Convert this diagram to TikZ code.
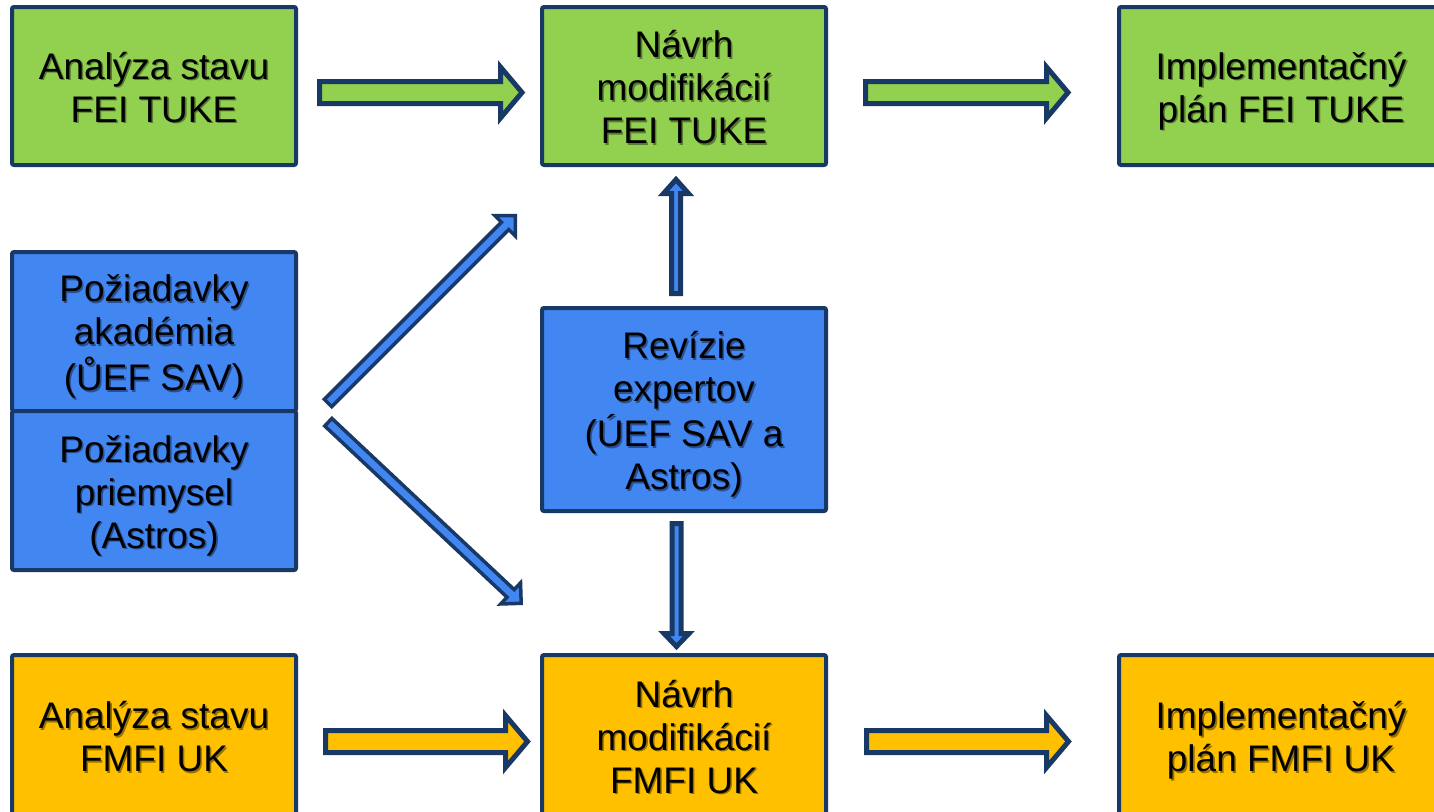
\documentclass[tikz,border=0pt]{standalone}
\usepackage{fontspec}
\setmainfont{Liberation Sans}
\usetikzlibrary{calc}
\definecolor{navy}{HTML}{183866}
\definecolor{gfill}{HTML}{92D050}
\definecolor{bfill}{HTML}{4286F1}
\definecolor{yfill}{HTML}{FFC000}
\newcommand\shtab[1]{\begin{tabular}{@{}c@{}}#1\end{tabular}}
\newcommand\sh[2]{\raisebox{-6pt}[\height][\depth]{\leavevmode\rlap{\kern1.6pt\raisebox{-1.6pt}[0pt][0pt]{\color{#1}\shtab{#2}}}\shtab{#2}}}
\newcommand\barrow[7]{\draw[#1, shift={#2}, rotate=#3] (0,-#5) -- ({#4-#7},-#5) -- ({#4-#7},-#6) -- (#4,0) -- ({#4-#7},#6) -- ({#4-#7},#5) -- (0,#5) -- cycle;}
\tikzset{
  box/.style={draw=navy, line width=4pt, rounded corners=2pt, inner sep=0pt,
    font=\fontsize{37}{43}\selectfont, text=black, minimum width=284pt, minimum height=158pt},
  gbox/.style={box, fill=gfill},
  bbox/.style={box, fill=bfill},
  ybox/.style={box, fill=yfill},
  arr/.style={draw=navy, line width=5pt, line join=miter, miter limit=10},
  garr/.style={arr, fill=gfill},
  yarr/.style={arr, fill=yfill},
  barr/.style={arr, fill=bfill},
  darr/.style={arr, fill=bfill, line width=3.5pt}
}
\begin{document}
\begin{tikzpicture}[x=1pt,y=-1pt]
\useasboundingbox (0,0) rectangle (1434,811);
\clip (0,0) rectangle (1434,811);
% boxes
\node[gbox] (a1) at (154,86) {\sh{gfill!60!black}{Analýza stavu\\FEI TUKE}};
\node[gbox] (n1) at (684,86) {\sh{gfill!60!black}{Návrh\\modifikácií\\FEI TUKE}};
\node[gbox, minimum width=324pt] (i1) at (1281,86) {\sh{gfill!60!black}{Implementačný\\plán FEI TUKE}};
\node[bbox, minimum height=159pt] (p1) at (154,331.5) {\sh{bfill!60!black}{Požiadavky\\akadémia\\(ŮEF SAV)}};
\node[bbox, minimum height=159pt] (p2) at (154,490.5) {\sh{bfill!60!black}{Požiadavky\\priemysel\\(Astros)}};
\node[bbox, minimum height=203pt] (r) at (684,409.5) {\sh{bfill!60!black}{Revízie\\expertov\\(ÚEF SAV a\\Astros)}};
\node[ybox, minimum height=161pt] (a2) at (154,735.5) {\sh{yfill!60!black}{Analýza stavu\\FMFI UK}};
\node[ybox, minimum height=161pt] (n2) at (684,735.5) {\sh{yfill!60!black}{Návrh\\modifikácií\\FMFI UK}};
\node[ybox, minimum height=161pt, minimum width=324pt] (i2) at (1281,735.5) {\sh{yfill!60!black}{Implementačný\\plán FMFI UK}};
% arrow start points
\coordinate (g1) at (319.5,92.5);
\coordinate (g2) at (865.5,92.5);
\coordinate (y1) at (325.5,741.5);
\coordinate (y2) at (866.5,741.5);
\coordinate (up) at (676,293.5);
\coordinate (dn) at (676.5,523.5);
\coordinate (d1) at (328,403);
\coordinate (d2) at (328.3,422.2);
% block arrows
\barrow{garr}{(g1)}{0}{202.5}{11}{25.5}{21.5}
\barrow{garr}{(g2)}{0}{202.5}{11}{25.5}{21.5}
\barrow{yarr}{(y1)}{0}{202}{11}{26}{22}
\barrow{yarr}{(y2)}{0}{202}{11}{26}{22}
\barrow{barr}{(up)}{90}{114}{4.5}{12.5}{14}
\barrow{barr}{(dn)}{-90}{123}{4.5}{12.5}{13}
\barrow{darr}{(d1)}{45}{265}{5.2}{14.5}{14.5}
\barrow{darr}{(d2)}{-43.2}{264.6}{5.2}{14.5}{14.5}
\end{tikzpicture}
\end{document}
